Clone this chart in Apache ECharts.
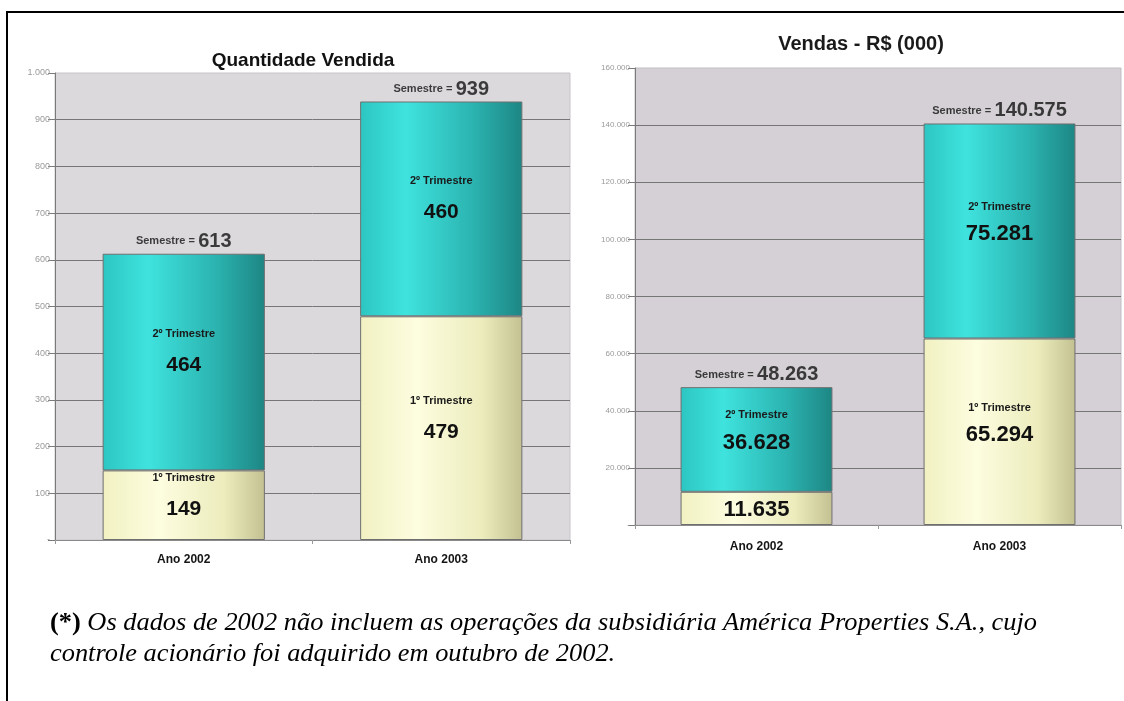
<!DOCTYPE html>
<html><head><meta charset="utf-8">
<script src="https://cdn.jsdelivr.net/npm/echarts@6/dist/echarts.min.js"></script>
<style>
html,body{margin:0;padding:0;background:#fff;width:1124px;height:701px;overflow:hidden;}
#chart{position:absolute;left:0;top:0;width:1124px;height:701px;}
.bt{position:absolute;left:6px;top:11px;width:1118px;height:2px;background:#000;}
.bl{position:absolute;left:6px;top:11px;width:2px;height:690px;background:#000;}
#note{position:absolute;left:50px;top:606px;font-family:'Liberation Serif','Times New Roman',serif;font-style:italic;font-size:26px;line-height:31px;color:#000;white-space:nowrap;transform-origin:0 0;}
</style></head><body>
<div id="chart"></div>
<div class="bt"></div><div class="bl"></div>
<div id="note"><span id="l1"><b style="font-style:normal">(*)</b> Os dados de 2002 não incluem as operações da subsidiária América Properties S.A., cujo</span><br>controle acionário foi adquirido em outubro de 2002.</div>
<script>
// ---- data ----
const categories = ['Ano 2002', 'Ano 2003'];
const qtyQ1 = [149, 479];
const qtyQ2 = [464, 460];
const qtyTotal = [613, 939];
const salesQ1 = [11635, 65294];
const salesQ2 = [36628, 75281];
const salesTotal = [48263, 140575];
const q1Title = '1º Trimestre';
const q2Title = '2º Trimestre';
const salesQ1Titles = ['', q1Title];
const qtyAxis = {min: 0, max: 1000, interval: 100};
const salesAxis = {min: 0, max: 160000, interval: 20000};

// ---- helpers ----
const FONT = "'Liberation Sans Narrow','Arial Narrow','Liberation Sans',Arial,sans-serif";
const fmt = v => v === 0 ? '-' : String(v).replace(/\B(?=(\d{3})+(?!\d))/g, '.');
const G = echarts.graphic.LinearGradient;
const teal = () => new G(0, 0, 1, 0, [
  {offset: 0, color: '#2cc6c2'}, {offset: 0.28, color: '#3fe3de'},
  {offset: 0.7, color: '#2bb3b0'}, {offset: 1, color: '#1d8684'}]);
const yellow = () => new G(0, 0, 1, 0, [
  {offset: 0, color: '#f1f1c2'}, {offset: 0.35, color: '#fdfde0'},
  {offset: 0.75, color: '#ececbd'}, {offset: 1, color: '#c3c192'}]);

function innerLabel(title, big, tlh, vlh, dy) {
  return {
    show: true, position: 'inside', offset: [0, dy],
    formatter: p => (title ? '{t|' + title + '}\n' : '') + '{v|' + fmt(p.value) + '}',
    rich: {
      t: {fontFamily: FONT, fontWeight: 'bold', fontSize: 11, color: '#1a1a1a', lineHeight: tlh, align: 'center'},
      v: {fontFamily: FONT, fontWeight: 'bold', fontSize: big, color: '#111', lineHeight: vlh, align: 'center'}
    }
  };
}
const totalLabel = {
  show: true, position: 'top', distance: 2,
  formatter: p => '{s|Semestre =} {n|' + fmt(p.value) + '}',
  rich: {
    s: {fontFamily: FONT, fontWeight: 'bold', fontSize: 11, color: '#111'},
    n: {fontFamily: FONT, fontWeight: 'bold', fontSize: 20, color: '#111'}
  }
};

function yAx(gi, cfg, fs) {
  return {
    type: 'value', gridIndex: gi, min: cfg.min, max: cfg.max, interval: cfg.interval,
    axisLine: {show: true, lineStyle: {color: '#7a7a7a'}},
    axisTick: {show: true, length: 7, lineStyle: {color: '#7a7a7a'}},
    axisLabel: {formatter: fmt, color: '#9a9a9a', fontSize: fs, fontFamily: FONT, margin: 5},
    splitLine: {show: true, showMaxLine: false, lineStyle: {color: '#767676', width: 1}}
  };
}
function xAx(gi, margin) {
  return {
    type: 'category', gridIndex: gi, data: categories,
    axisLine: {show: true, lineStyle: {color: '#8a8a8a'}},
    axisTick: {show: true, length: 4, lineStyle: {color: '#9a9a9a'}},
    axisLabel: {color: '#151515', fontFamily: FONT, fontWeight: 'bold', fontSize: 12, margin: margin}
  };
}
const barBorder = {borderColor: '#6f6f6f', borderWidth: 1};

const chart = echarts.init(document.getElementById('chart'));
chart.setOption({
  animation: false,
  title: [
    {text: 'Quantidade Vendida', left: 298, top: 46, textAlign: 'center',
     textStyle: {fontFamily: FONT, fontWeight: 'bold', fontSize: 19, color: '#111'}},
    {text: 'Vendas - R$ (000)', left: 856, top: 29, textAlign: 'center',
     textStyle: {fontFamily: FONT, fontWeight: 'bold', fontSize: 20, color: '#1a1a1a'}}
  ],
  grid: [
    {left: 55, top: 73, width: 515, height: 467, show: true, backgroundColor: '#dcd9dd', borderColor: '#c6c4c8', borderWidth: 1},
    {left: 635, top: 68, width: 486, height: 457, show: true, backgroundColor: '#d4d0d5', borderColor: '#c2bfc3', borderWidth: 1}
  ],
  xAxis: [xAx(0, 14), xAx(1, 16)],
  yAxis: [yAx(0, qtyAxis, 9), yAx(1, salesAxis, 8)],
  series: [
    {type: 'bar', xAxisIndex: 0, yAxisIndex: 0, stack: 'q', barWidth: '63%', data: qtyQ1,
     itemStyle: Object.assign({color: yellow()}, barBorder), label: innerLabel(q1Title, 21, 22, 40, -7)},
    {type: 'bar', xAxisIndex: 0, yAxisIndex: 0, stack: 'q', barWidth: '63%', data: qtyQ2,
     itemStyle: Object.assign({color: teal()}, barBorder), label: innerLabel(q2Title, 21, 22, 40, -8)},
    {type: 'scatter', xAxisIndex: 0, yAxisIndex: 0, data: qtyTotal, symbol: 'rect', symbolSize: 1, z: 5, silent: true,
     itemStyle: {color: 'rgba(0,0,0,0)'}, label: totalLabel},
    {type: 'bar', xAxisIndex: 1, yAxisIndex: 1, stack: 's', barWidth: '62.5%',
     data: salesQ1.map((v, i) => salesQ1Titles[i] ? v : {value: v, label: innerLabel('', 22, 18, 36, 2)}),
     itemStyle: Object.assign({color: yellow()}, barBorder), label: innerLabel(q1Title, 22, 18, 36, -6)},
    {type: 'bar', xAxisIndex: 1, yAxisIndex: 1, stack: 's', barWidth: '62.5%', data: salesQ2,
     itemStyle: Object.assign({color: teal()}, barBorder), label: innerLabel(q2Title, 22, 18, 36, -6)},
    {type: 'scatter', xAxisIndex: 1, yAxisIndex: 1, data: salesTotal, symbol: 'rect', symbolSize: 1, z: 5, silent: true,
     itemStyle: {color: 'rgba(0,0,0,0)'}, label: totalLabel}
  ]
});

// fit footnote first line to reference width
const l1 = document.getElementById('l1');
const w = l1.getBoundingClientRect().width;
document.getElementById('note').style.transform = 'scaleX(' + (987 / w) + ')';
</script>
</body></html>
